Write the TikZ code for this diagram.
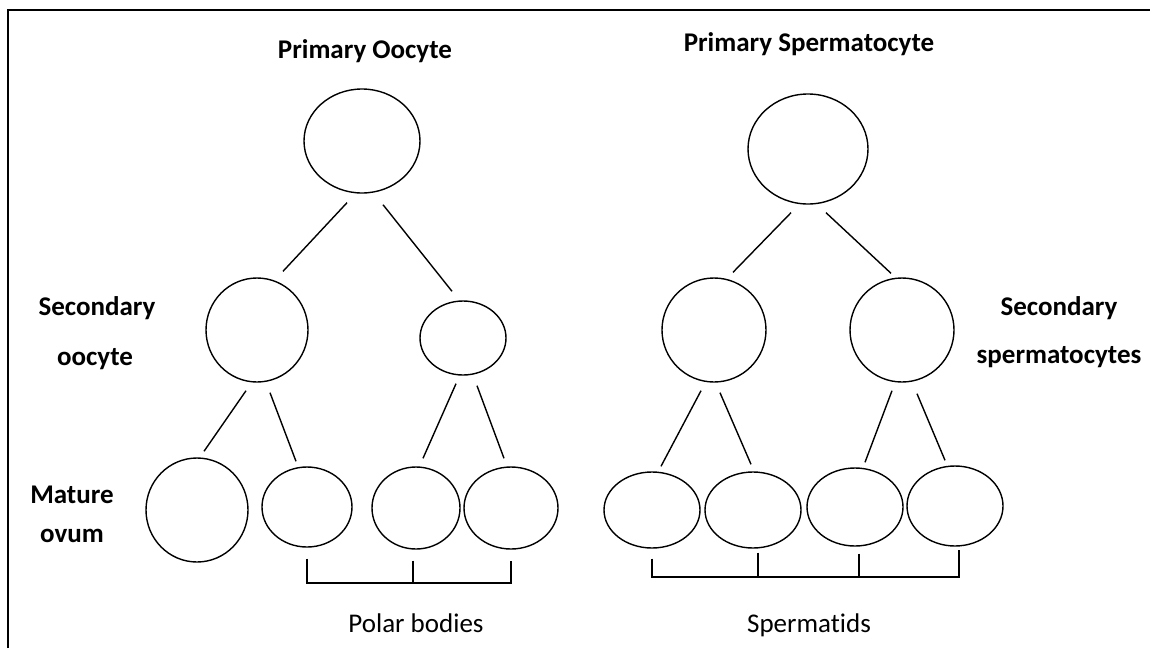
\documentclass[tikz,border=0pt]{standalone}
\usepackage{fontspec}
\setmainfont{Carlito}[Ligatures=NoCommon]
\usetikzlibrary{shapes.geometric}
\tikzset{
  cell/.style={draw, ellipse, line width=1.4pt, inner sep=0pt},
  link/.style={line width=1.4pt},
  lab/.style={font=\bfseries\fontsize{27}{32}\selectfont, inner sep=0pt, anchor=base},
  foot/.style={font=\fontsize{27}{32}\selectfont, inner sep=0pt, anchor=base},
}
\begin{document}
\begin{tikzpicture}[x=1pt, y=-1pt]
\useasboundingbox (0,0) rectangle (1150,648);
% frame edges
\draw[line width=2.6pt] (8,648) -- (8,10) -- (1150,10);

% ---- oogenesis ----
\node[lab] (tOo) at (365,58) {Primary Oocyte};
\node[cell, minimum width=116pt, minimum height=104pt] (T1) at (362,141) {};
\node[cell, minimum width=102pt, minimum height=104pt] (S1) at (257,330) {};
\node[cell, minimum width=86pt,  minimum height=74pt]  (S2) at (463,338) {};
\node[cell, minimum width=102pt, minimum height=104pt] (O)  at (197,510) {};
\node[cell, minimum width=90pt,  minimum height=80pt]  (P1) at (307,507) {};
\node[cell, minimum width=88pt,  minimum height=82pt]  (P2) at (416,508) {};
\node[cell, minimum width=94pt,  minimum height=82pt]  (P3) at (511,508) {};

\draw[link] ([shift={(-15,9)}]T1.south) -- ([shift={(26,-6)}]S1.north);
\draw[link] ([shift={(21,11)}]T1.south) -- ([shift={(-11,-9)}]S2.north);
\draw[link] ([shift={(-11,8)}]S1.south) -- ([shift={(7,-6)}]O.north);
\draw[link] ([shift={(13,10)}]S1.south) -- ([shift={(-11,-5)}]P1.north);
\draw[link] ([shift={(-7,8)}]S2.south) -- ([shift={(7,-8)}]P2.north);
\draw[link] ([shift={(14,10)}]S2.south) -- ([shift={(-7,-8)}]P3.north);

\node[lab] (lSecA) at (97,315) {Secondary};
\node[lab] (lSecB) at (95,365) {oocyte};
\node[lab] (lMatA) at (72,503) {Mature};
\node[lab] (lMatB) at (72,542) {ovum};

% polar body bracket
\coordinate (pbar) at (0,583);
\draw[link] ([shift={(0,11)}]P1.south) -- (P1.south |- pbar) -- (P3.south |- pbar) -- ([shift={(0,11)}]P3.south);
\draw[link] ([shift={(-3,11)}]P2.south) -- ([xshift=-3pt]P2.south |- pbar);
\node[foot] (lPol) at (416,632) {Polar bodies};

% ---- spermatogenesis ----
\node[lab] (tSp) at (809,51) {Primary Spermatocyte};
\node[cell, minimum width=120pt, minimum height=110pt] (T2)  at (808,149) {};
\node[cell, minimum width=104pt, minimum height=104pt] (SS1) at (714,330) {};
\node[cell, minimum width=104pt, minimum height=104pt] (SS2) at (902,330) {};
\node[cell, minimum width=96pt,  minimum height=76pt]  (D1)  at (652,510) {};
\node[cell, minimum width=96pt,  minimum height=76pt]  (D2)  at (753,510) {};
\node[cell, minimum width=96pt,  minimum height=78pt]  (D3)  at (855,507) {};
\node[cell, minimum width=96pt,  minimum height=80pt]  (D4)  at (955,506) {};

\draw[link] ([shift={(-17,8)}]T2.south) -- ([shift={(19,-5)}]SS1.north);
\draw[link] ([shift={(18,8)}]T2.south) -- ([shift={(-11,-4)}]SS2.north);
\draw[link] ([shift={(-13,8)}]SS1.south) -- ([shift={(9,-5)}]D1.north);
\draw[link] ([shift={(6,10)}]SS1.south) -- ([shift={(-2,-7)}]D2.north);
\draw[link] ([shift={(-10,8)}]SS2.south) -- ([shift={(10,-5)}]D3.north);
\draw[link] ([shift={(15,11)}]SS2.south) -- ([shift={(-10,-5)}]D4.north);

\node[lab] (lSspA) at (1059,315) {Secondary};
\node[lab] (lSspB) at (1059,363) {spermatocytes};

% spermatid bracket
\coordinate (sbar) at (0,577);
\draw[link] ([shift={(0,10)}]D1.south) -- (D1.south |- sbar) -- ([xshift=4pt]D4.south |- sbar) -- ([shift={(4,3)}]D4.south);
\draw[link] ([shift={(5,4)}]D2.south) -- ([xshift=5pt]D2.south |- sbar);
\draw[link] ([shift={(4,7)}]D3.south) -- ([xshift=4pt]D3.south |- sbar);
\node[foot] (lSpt) at (809,632) {Spermatids};
\end{tikzpicture}
\end{document}
